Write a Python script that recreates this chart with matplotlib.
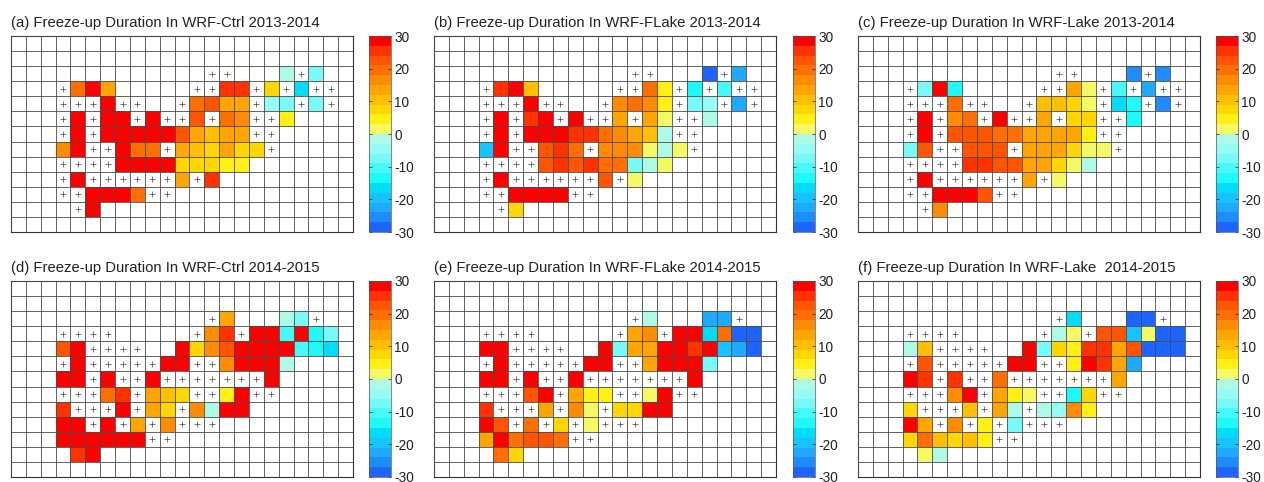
import numpy as np
import matplotlib
matplotlib.use("Agg")
import matplotlib.pyplot as plt
from matplotlib.colors import ListedColormap, BoundaryNorm

plt.rcParams["font.family"] = ["Liberation Sans", "DejaVu Sans"]
plt.rcParams["axes.unicode_minus"] = False

# P = lake cell without data (drawn as +), _ = blank cell
P = 99
_ = np.nan
N_ROWS = 13
N_COLS = 23

# each panel: one (first column, values) per row, top row first
ctrl_1314 = [
    (0, []), (0, []),
    (13, [P, P, _, _, _, -2, P, -7]),
    (3, [P, 19, 28, 13, _, _, _, _, _, P, P, 25, 25, P, 8, P, -17, P, P]),
    (3, [P, P, P, 28, P, P, _, _, P, 20, 23, 13, 13, P, -4, -7, P, -8, P]),
    (3, [P, 28, P, 28, 28, P, 28, P, P, 23, P, 20, 17, P, P, 5]),
    (3, [P, 28, P, 28, 28, 28, 28, 28, 21, 13, 11, 13, 14, P, P]),
    (3, [15, 28, P, P, 28, 19, 19, P, 14, 11, 8, 13, 8, 8, P]),
    (3, [P, P, P, P, 28, 28, 28, 28, 8, 8, 8, 5, 5]),
    (3, [P, 28, P, P, P, P, P, P, 13, P, 24]),
    (3, [P, P, 28, 28, 28, 18, P, P]),
    (4, [P, 28]),
    (0, []),
]
flake_1314 = [
    (0, []), (0, []),
    (13, [P, P, _, _, _, -28, P, -24]),
    (3, [P, 25, 28, 11, _, _, _, _, _, P, P, 19, 5, P, -13, P, -11, P, P]),
    (3, [P, P, P, 28, P, P, _, _, P, 15, 18, 15, 5, P, -7, -6, P, -24, P]),
    (3, [P, 28, P, 24, 28, P, 28, P, P, 13, P, 12, 2, P, P, -2]),
    (3, [P, 28, P, 28, 28, 28, 25, 24, 19, 16, 13, 11, -2, P, P]),
    (3, [-21, 28, P, P, 23, 24, 20, P, 15, 15, 16, 2, -2, 2, P]),
    (3, [P, P, P, P, 23, 25, 22, 25, 18, 18, -7, -3, 2]),
    (3, [P, 28, P, P, P, P, P, P, 21, P, 2]),
    (3, [P, P, 28, 28, 28, 28, P, P]),
    (4, [P, 8]),
    (0, []),
]
lake_1314 = [
    (0, []), (0, []),
    (13, [P, P, _, _, _, -27, P, -27]),
    (3, [P, -7, 28, -13, _, _, _, _, _, P, P, 13, 2, P, -12, P, -23, P, P]),
    (3, [P, P, P, 19, P, P, _, _, P, 11, 11, 8, 2, P, -17, -13, P, -27, P]),
    (3, [P, 28, P, 17, 20, P, 28, P, P, 13, P, 8, 8, P, P, -13]),
    (3, [P, 28, P, 22, 22, 22, 20, 20, 14, 14, 14, 13, 5, P, P]),
    (3, [-8, 22, P, P, 22, 22, 22, P, 14, 13, 13, 8, 2, 2, P]),
    (3, [P, P, P, P, 25, 25, 23, 22, 14, 14, 8, 2, -2]),
    (3, [P, 28, P, P, P, P, P, P, 13, P, 2]),
    (3, [P, P, 28, 28, 28, 22, P, P]),
    (4, [P, 16]),
    (0, []),
]
ctrl_1415 = [
    (0, []), (0, []),
    (13, [P, 13, _, _, _, -2, -8, P]),
    (3, [P, P, P, P, _, _, _, _, _, P, 16, 24, P, 28, 28, -10, 28, -13, -8]),
    (3, [22, 28, P, P, P, P, _, _, 28, 8, 15, 21, 28, 28, 28, 28, -11, -13, -17]),
    (3, [P, 28, P, P, P, P, P, 28, 28, P, P, 16, 28, 28, 28, -2]),
    (3, [28, 28, P, 28, P, P, 28, P, P, P, P, P, P, P, 28]),
    (3, [P, P, P, 18, 25, P, 14, 9, 8, P, P, 5, 28, P, P]),
    (3, [25, P, P, P, 28, P, 14, 8, P, 16, -2, 28, 28]),
    (3, [28, 28, P, 28, P, 13, P, 16, P, P, P]),
    (3, [28, 28, 28, 28, 28, 28, P, P]),
    (4, [24, 28]),
    (0, []),
]
flake_1415 = [
    (0, []), (0, []),
    (13, [P, -2, _, _, _, -24, -24, P]),
    (3, [P, P, P, P, _, _, _, _, _, P, 13, 16, P, 28, 28, -18, 20, -28, -28]),
    (3, [28, 28, P, P, P, P, _, _, 28, -7, 13, 13, 28, 28, 25, 28, -20, -24, -28]),
    (3, [P, 28, P, P, P, P, P, 28, 28, P, P, 12, 28, 28, 28, -7]),
    (3, [28, 28, P, 28, P, P, 28, P, P, P, P, P, P, P, 28]),
    (3, [P, P, P, 22, 28, P, 13, 5, 5, P, P, 2, 28, P, P]),
    (3, [25, P, P, P, 13, P, 16, 2, P, 8, 8, 28, 28]),
    (3, [28, 22, P, 18, P, 8, P, 2, P, P, P]),
    (3, [14, 28, 19, 22, 21, 19, P, P]),
    (4, [18, 8]),
    (0, []),
]
lake_1415 = [
    (0, []), (0, []),
    (13, [P, -17, _, _, _, -28, -28, P]),
    (3, [P, P, P, P, _, _, _, _, _, P, -2, 2, P, 21, 22, -20, 2, -28, -28]),
    (3, [-2, 11, P, P, P, P, _, _, 28, -7, 8, 5, 25, 25, 13, 22, -28, -28, -28]),
    (3, [P, 22, P, P, P, P, P, 28, 28, P, P, 5, 28, 24, 13, -23]),
    (3, [28, 25, P, 25, P, P, 20, P, P, P, P, P, P, P, 13]),
    (3, [P, P, P, 17, 28, P, 13, 5, 2, P, P, -13, 8, P, P]),
    (3, [8, P, P, P, 11, P, 13, -2, P, -2, -5, 15, 5]),
    (3, [28, 13, P, 16, P, 5, P, -7, P, P, P]),
    (3, [8, 18, 11, 8, 11, 5, P, P]),
    (4, [2, -2]),
    (0, []),
]

titles = [
    "(a) Freeze-up Duration In WRF-Ctrl 2013-2014",
    "(b) Freeze-up Duration In WRF-FLake 2013-2014",
    "(c) Freeze-up Duration In WRF-Lake 2013-2014",
    "(d) Freeze-up Duration In WRF-Ctrl 2014-2015",
    "(e) Freeze-up Duration In WRF-FLake 2014-2015",
    "(f) Freeze-up Duration In WRF-Lake  2014-2015",
]
panels = [ctrl_1314, flake_1314, lake_1314, ctrl_1415, flake_1415, lake_1415]

# colour levels, -30 to 30 in steps of 3
levels = np.arange(-30, 31, 3)
level_colors = [
    "#1e64ff", "#1e8cff", "#1eaaff", "#14c3ff", "#00dcfa",
    "#1efafa", "#46fafa", "#78fafa", "#96faf5", "#affae6",
    "#f5fa64", "#fff014", "#ffd700", "#ffbe00", "#ffa500",
    "#ff8c00", "#ff6e00", "#ff5500", "#ff3200", "#ff0000",
]
cbar_ticks = [-30, -20, -10, 0, 10, 20, 30]

cmap = ListedColormap(level_colors)
norm = BoundaryNorm(levels, cmap.N)

W, H = 1264, 482
col_left = [11, 434, 858]
row_top = [36, 281]
cbar_left = [369, 793, 1216]
ax_w, ax_h = 342, 196
cbar_w = 22


def to_grid(rows):
    grid = np.full((N_ROWS, N_COLS), np.nan)
    for i, (start, values) in enumerate(rows):
        grid[i, start:start + len(values)] = values
    return grid


fig = plt.figure(figsize=(W / 100, H / 100), dpi=100)

for k, rows in enumerate(panels):
    r, c = k // 3, k % 3
    ax = fig.add_axes([col_left[c] / W, 1 - (row_top[r] + ax_h) / H, ax_w / W, ax_h / H])
    grid = to_grid(rows)
    plus = grid == P
    vals = np.ma.masked_invalid(np.where(plus, np.nan, grid))
    mesh = ax.pcolormesh(np.arange(N_COLS + 1), np.arange(N_ROWS + 1), vals, cmap=cmap, norm=norm)
    yy, xx = np.nonzero(plus)
    ax.plot(xx + 0.5, yy + 0.5, "+", color="#444444", ms=4, mew=0.5, zorder=4)
    ax.set_xlim(0, N_COLS)
    ax.set_ylim(N_ROWS, 0)
    ax.set_xticks(np.arange(N_COLS + 1))
    ax.set_yticks(np.arange(N_ROWS + 1))
    ax.grid(True, color="#4a4a4a", lw=0.6)
    ax.set_axisbelow(False)
    ax.tick_params(length=0, labelbottom=False, labelleft=False)
    for s in ax.spines.values():
        s.set_color("#333333")
        s.set_linewidth(0.8)
    ax.set_title(titles[k], loc="left", fontsize=10.7, color="#222222", pad=6.5)

    cax = fig.add_axes([cbar_left[c] / W, 1 - (row_top[r] + ax_h) / H, cbar_w / W, ax_h / H])
    cb = fig.colorbar(mesh, cax=cax, ticks=cbar_ticks, spacing="proportional")
    cb.ax.tick_params(direction="in", length=2, width=0.5, labelsize=9.8, pad=2.5, colors="#222222", right=True, left=True)
    cb.ax.minorticks_off()
    cb.outline.set_edgecolor("#555555")
    cb.outline.set_linewidth(0.5)

fig.savefig("out.png", dpi=100)
